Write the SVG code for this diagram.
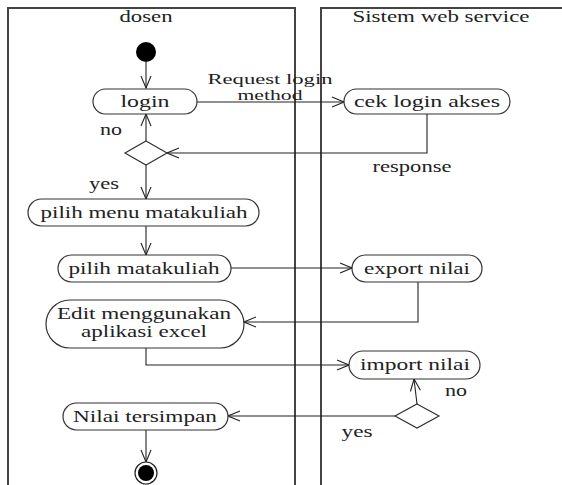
<svg xmlns="http://www.w3.org/2000/svg" width="562" height="485" viewBox="0 0 562 485">
<defs>
<marker id="arr" markerWidth="14" markerHeight="12" refX="13" refY="6" orient="auto" markerUnits="userSpaceOnUse">
<path d="M1,1 L13,6 L1,11" fill="none" stroke="#222" stroke-width="1.1"/>
</marker>
</defs>
<style>
text{font-family:"Liberation Serif","DejaVu Serif","Times New Roman",serif;font-size:16px;fill:#222;text-anchor:middle}
.lbl{font-size:14px}
.act{fill:#fff;stroke:#333;stroke-width:1.2}
.lane{fill:none;stroke:#444;stroke-width:2}
.c{fill:none;stroke:#222;stroke-width:1.1}
</style>
<rect width="562" height="485" fill="#fff"/>
<g id="lanes">
<path class="lane" d="M8,485 V8 H295 V485"/>
<path class="lane" d="M321,485 V8 H562"/>
<text x="146" y="22" textLength="53" lengthAdjust="spacingAndGlyphs">dosen</text>
<text x="441" y="22" textLength="177" lengthAdjust="spacingAndGlyphs">Sistem web service</text>
</g>
<g id="connectors">
<path class="c" d="M146,62 V88" marker-end="url(#arr)"/>
<path class="c" d="M197,102 H344" marker-end="url(#arr)"/>
<path class="c" d="M427,114 V153 H167" marker-end="url(#arr)"/>
<path class="c" d="M146,141 V114" marker-end="url(#arr)"/>
<path class="c" d="M146,165 V199" marker-end="url(#arr)"/>
<path class="c" d="M146,226 V255" marker-end="url(#arr)"/>
<path class="c" d="M231,268 H352" marker-end="url(#arr)"/>
<path class="c" d="M418,282 V322 H244" marker-end="url(#arr)"/>
<path class="c" d="M146,348 V365 H349" marker-end="url(#arr)"/>
<path class="c" d="M417,404 L414,379" marker-end="url(#arr)"/>
<path class="c" d="M395,416 H228" marker-end="url(#arr)"/>
<path class="c" d="M146,430 V462" marker-end="url(#arr)"/>
<text class="lbl" x="270" y="84" textLength="125" lengthAdjust="spacingAndGlyphs">Request login</text>
<text class="lbl" x="270" y="100" textLength="65" lengthAdjust="spacingAndGlyphs">method</text>
<text x="111" y="135" textLength="22" lengthAdjust="spacingAndGlyphs">no</text>
<text x="412" y="172" textLength="79" lengthAdjust="spacingAndGlyphs">response</text>
<text x="104" y="189" textLength="30" lengthAdjust="spacingAndGlyphs">yes</text>
<text x="456" y="396" textLength="22" lengthAdjust="spacingAndGlyphs">no</text>
<text x="357" y="437" textLength="31" lengthAdjust="spacingAndGlyphs">yes</text>
</g>
<g id="start"><circle cx="146" cy="52" r="10" fill="#000"/></g>
<g id="login"><rect class="act" x="93" y="89" width="104" height="25" rx="12.5"/><text x="145" y="107" textLength="49" lengthAdjust="spacingAndGlyphs">login</text></g>
<g id="cek"><rect class="act" x="344" y="89" width="166" height="25" rx="12.5"/><text x="427" y="107" textLength="146" lengthAdjust="spacingAndGlyphs">cek login akses</text></g>
<g id="decision1"><path class="act" d="M146,141 L167,153 L146,165 L125,153 Z"/></g>
<g id="menu"><rect class="act" x="28" y="199" width="231" height="27" rx="13.5"/><text x="144" y="218" textLength="207" lengthAdjust="spacingAndGlyphs">pilih menu matakuliah</text></g>
<g id="matkul"><rect class="act" x="58" y="255" width="173" height="27" rx="13.5"/><text x="144" y="274" textLength="151" lengthAdjust="spacingAndGlyphs">pilih matakuliah</text></g>
<g id="export"><rect class="act" x="352" y="255" width="130" height="27" rx="13.5"/><text x="417" y="274" textLength="106" lengthAdjust="spacingAndGlyphs">export nilai</text></g>
<g id="edit"><rect class="act" x="46" y="300" width="198" height="48" rx="24"/><text x="144" y="319" textLength="174" lengthAdjust="spacingAndGlyphs">Edit menggunakan</text><text x="144" y="337" textLength="126" lengthAdjust="spacingAndGlyphs">aplikasi excel</text></g>
<g id="import"><rect class="act" x="349" y="351" width="131" height="28" rx="14"/><text x="415" y="370" textLength="110" lengthAdjust="spacingAndGlyphs">import nilai</text></g>
<g id="decision2"><path class="act" d="M417,404 L439,416 L417,428 L395,416 Z"/></g>
<g id="simpan"><rect class="act" x="63" y="403" width="165" height="27" rx="13.5"/><text x="145" y="422" textLength="144" lengthAdjust="spacingAndGlyphs">Nilai tersimpan</text></g>
<g id="end"><circle cx="146" cy="473" r="11" fill="#fff" stroke="#222" stroke-width="1.2"/><circle cx="146" cy="473" r="8" fill="#000"/></g>
</svg>
